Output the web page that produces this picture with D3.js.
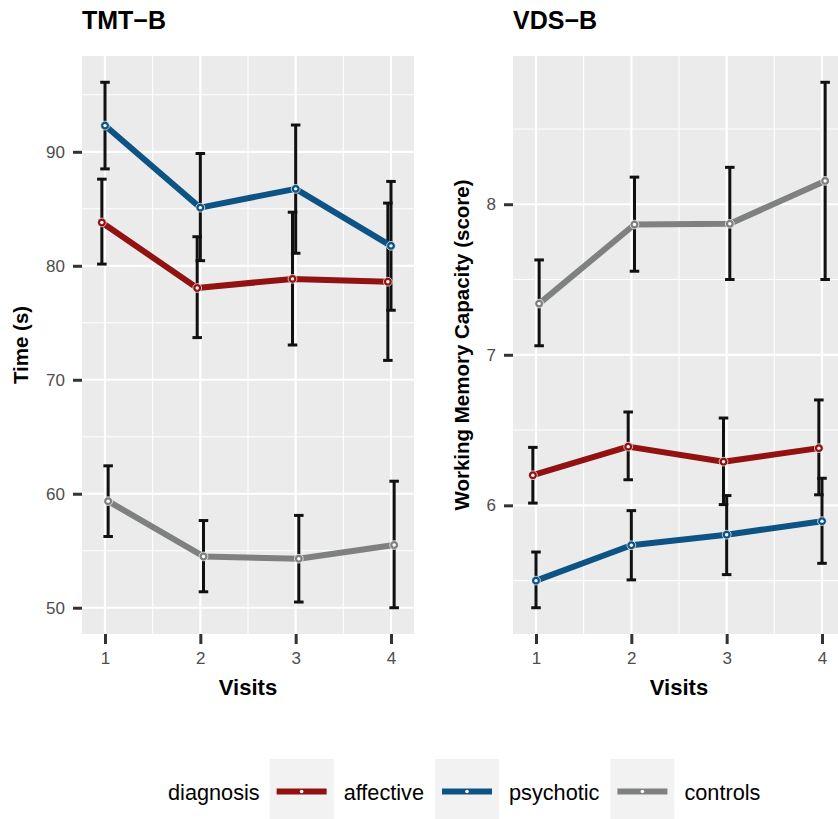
<!DOCTYPE html>
<html>
<head>
<meta charset="utf-8">
<script src="https://cdn.jsdelivr.net/npm/d3@7"></script>
<style>
  body { margin: 0; background: #fff; }
  svg { display: block; font-family: "Liberation Sans", Arial, Helvetica, sans-serif; }
</style>
</head>
<body>
<div id="chart"></div>
<script>
// visits and diagnosis groups
const visits = [1, 2, 3, 4];
const groups = ['affective', 'psychotic', 'controls'];
const groupColors = ['#921111', '#0d5384', '#7f8080'];

// TMT-B (time in s): means with lower / upper error bounds
const tmtAffective = [83.8, 78.05, 78.85, 78.6];
const tmtAffectiveLo = [80.15, 73.7, 73.05, 71.7];
const tmtAffectiveHi = [87.6, 82.55, 84.7, 85.5];
const tmtPsychotic = [92.3, 85.1, 86.75, 81.75];
const tmtPsychoticLo = [88.5, 80.45, 81.1, 76.1];
const tmtPsychoticHi = [96.1, 89.85, 92.35, 87.4];
const tmtControls = [59.35, 54.5, 54.3, 55.5];
const tmtControlsLo = [56.25, 51.4, 50.5, 50.0];
const tmtControlsHi = [62.45, 57.65, 58.1, 61.1];
const tmtTicks = [50, 60, 70, 80, 90];

// VDS-B (working memory score)
const vdsAffective = [6.2, 6.39, 6.29, 6.38];
const vdsAffectiveLo = [6.015, 6.17, 6.005, 6.07];
const vdsAffectiveHi = [6.385, 6.62, 6.58, 6.70];
const vdsPsychotic = [5.50, 5.735, 5.805, 5.895];
const vdsPsychoticLo = [5.32, 5.505, 5.54, 5.615];
const vdsPsychoticHi = [5.69, 5.965, 6.065, 6.18];
const vdsControls = [7.34, 7.865, 7.87, 8.155];
const vdsControlsLo = [7.06, 7.555, 7.50, 7.50];
const vdsControlsHi = [7.63, 8.18, 8.245, 8.81];
const vdsTicks = [6, 7, 8];

const W = 838, H = 819;
const svg = d3.select('#chart').append('svg').attr('width', W).attr('height', H);

const dodge = [-0.033, 0, 0.033];
const capHalf = 0.05;

function buildSeries(means, los, his) {
  return means.map((m, gi) => visits.map((v, i) => ({
    x: v + dodge[gi], y: m[i], lo: los[gi][i], hi: his[gi][i], g: gi
  })));
}

function drawPanel(opts) {
  const { left, top, width, height, title, yTitle, series, ticks, yTitleX } = opts;
  const g = svg.append('g');

  // ggplot-like 5% expansion
  const all = series.flat();
  const yMin = d3.min(all, d => d.lo), yMax = d3.max(all, d => d.hi);
  const yPad = (yMax - yMin) * 0.05;
  const xMin = 1 + dodge[0] - capHalf, xMax = 4 + dodge[2] + capHalf;
  const xPad = (xMax - xMin) * 0.05;

  const x = d3.scaleLinear().domain([xMin - xPad, xMax + xPad]).range([left, left + width]);
  const y = d3.scaleLinear().domain([yMin - yPad, yMax + yPad]).range([top + height, top]);

  g.append('rect').attr('x', left).attr('y', top).attr('width', width).attr('height', height)
    .attr('fill', '#ebebeb');

  const step = ticks[1] - ticks[0];
  const minorY = ticks.map(t => t - step / 2).concat([ticks[ticks.length - 1] + step / 2])
    .filter(t => y(t) > top && y(t) < top + height);
  const minorX = [0.5, 1.5, 2.5, 3.5, 4.5].filter(t => x(t) > left && x(t) < left + width);

  g.selectAll('.minorY').data(minorY).enter().append('line')
    .attr('x1', left).attr('x2', left + width).attr('y1', d => y(d)).attr('y2', d => y(d))
    .attr('stroke', '#fff').attr('stroke-width', 1.1);
  g.selectAll('.minorX').data(minorX).enter().append('line')
    .attr('y1', top).attr('y2', top + height).attr('x1', d => x(d)).attr('x2', d => x(d))
    .attr('stroke', '#fff').attr('stroke-width', 1.1);
  g.selectAll('.majorY').data(ticks).enter().append('line')
    .attr('x1', left).attr('x2', left + width).attr('y1', d => y(d)).attr('y2', d => y(d))
    .attr('stroke', '#fff').attr('stroke-width', 2.2);
  g.selectAll('.majorX').data(visits).enter().append('line')
    .attr('y1', top).attr('y2', top + height).attr('x1', d => x(d)).attr('x2', d => x(d))
    .attr('stroke', '#fff').attr('stroke-width', 2.2);

  // axes
  const yAxis = d3.axisLeft(y).tickValues(ticks).tickFormat(d3.format('d')).tickSize(9).tickPadding(8);
  const ya = g.append('g').attr('transform', `translate(${left},0)`).call(yAxis);
  const xAxis = d3.axisBottom(x).tickValues(visits).tickFormat(d3.format('d')).tickSize(10).tickPadding(8);
  const xa = g.append('g').attr('transform', `translate(0,${top + height})`).call(xAxis);
  [ya, xa].forEach(a => {
    a.select('.domain').remove();
    a.selectAll('.tick line').attr('stroke', '#333').attr('stroke-width', 3);
    a.selectAll('.tick text').attr('fill', '#4d4d4d').style('font-size', '17px')
      .style('font-family', '"Liberation Sans", Arial, sans-serif');
  });

  // error bars
  const eb = g.append('g');
  series.flat().forEach(d => {
    eb.append('line').attr('x1', x(d.x)).attr('x2', x(d.x)).attr('y1', y(d.lo)).attr('y2', y(d.hi))
      .attr('stroke', '#111').attr('stroke-width', 3);
    [d.lo, d.hi].forEach(v => {
      eb.append('line').attr('x1', x(d.x - capHalf)).attr('x2', x(d.x + capHalf))
        .attr('y1', y(v)).attr('y2', y(v)).attr('stroke', '#111').attr('stroke-width', 3);
    });
  });

  // lines
  const line = d3.line().x(d => x(d.x)).y(d => y(d.y));
  series.forEach((s, gi) => {
    g.append('path').datum(s).attr('d', line).attr('fill', 'none')
      .attr('stroke', groupColors[gi]).attr('stroke-width', 6).attr('stroke-linejoin', 'round');
  });
  // points
  series.forEach((s, gi) => {
    g.selectAll(null).data(s).enter().append('circle')
      .attr('cx', d => x(d.x)).attr('cy', d => y(d.y)).attr('r', 4.4)
      .attr('fill', groupColors[gi]).attr('stroke', '#fff').attr('stroke-opacity', 0.7).attr('stroke-width', 1);
    g.selectAll(null).data(s).enter().append('circle')
      .attr('cx', d => x(d.x)).attr('cy', d => y(d.y)).attr('r', 1.7).attr('fill', '#fff');
  });

  // titles
  svg.append('text').attr('x', left).attr('y', 29).text(title)
    .style('font-size', '25px').style('font-weight', 'bold').attr('fill', '#000');
  svg.append('text').attr('x', left + width / 2).attr('y', 695).attr('text-anchor', 'middle')
    .text('Visits').style('font-size', '22px').style('font-weight', 'bold').attr('fill', '#000');
  svg.append('text').attr('transform', `translate(${yTitleX},${top + height / 2}) rotate(-90)`)
    .attr('text-anchor', 'middle').text(yTitle)
    .style('font-size', '20.5px').style('font-weight', 'bold').attr('fill', '#000');
}

drawPanel({
  left: 82, top: 56, width: 332, height: 578, title: 'TMT\u2212B', yTitle: 'Time (s)', yTitleX: 28,
  series: buildSeries([tmtAffective, tmtPsychotic, tmtControls],
    [tmtAffectiveLo, tmtPsychoticLo, tmtControlsLo], [tmtAffectiveHi, tmtPsychoticHi, tmtControlsHi]),
  ticks: tmtTicks
});
drawPanel({
  left: 513, top: 56, width: 332, height: 578, title: 'VDS\u2212B', yTitle: 'Working Memory Capacity (score)', yTitleX: 469,
  series: buildSeries([vdsAffective, vdsPsychotic, vdsControls],
    [vdsAffectiveLo, vdsPsychoticLo, vdsControlsLo], [vdsAffectiveHi, vdsPsychoticHi, vdsControlsHi]),
  ticks: vdsTicks
});

// legend
const lg = svg.append('g');
let lx = 168;
const ly = 800;
const lt = lg.append('text').attr('x', lx).attr('y', ly).text('diagnosis')
  .style('font-size', '21.7px').attr('fill', '#000');
lx += lt.node().getComputedTextLength() + 10;
groups.forEach((name, gi) => {
  lg.append('rect').attr('x', lx).attr('y', 759).attr('width', 64).attr('height', 62).attr('fill', '#f2f2f2');
  lg.append('line').attr('x1', lx + 7).attr('x2', lx + 57).attr('y1', 791.5).attr('y2', 791.5)
    .attr('stroke', groupColors[gi]).attr('stroke-width', 6);
  lg.append('circle').attr('cx', lx + 32).attr('cy', 791.5).attr('r', 1.8).attr('fill', '#fff');
  lx += 64 + 10;
  const t = lg.append('text').attr('x', lx).attr('y', ly).text(name)
    .style('font-size', '21.7px').attr('fill', '#000');
  lx += t.node().getComputedTextLength() + 11;
});
</script>
</body>
</html>
